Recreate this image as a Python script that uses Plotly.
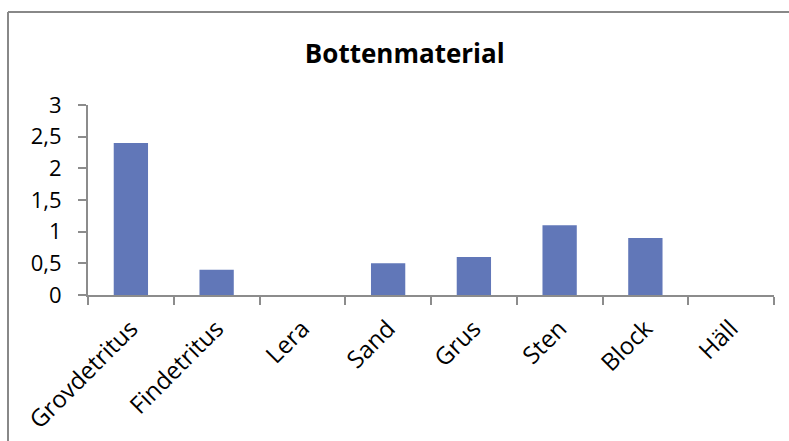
import plotly.graph_objects as go

categories = ["Grovdetritus", "Findetritus", "Lera", "Sand", "Grus", "Sten", "Block", "Häll"]
values = [2.4, 0.4, 0, 0.5, 0.6, 1.1, 0.9, 0]
y_ticks = [0, 0.5, 1, 1.5, 2, 2.5, 3]

W, H = 789, 441
L, R, T, B = 88, 15, 105, 146
pw, ph = W - L - R, H - T - B

def px_x(p):
    return (p - L) / pw

def px_y(p):
    return (H - B - p) / ph

font = "Open Sans, Liberation Sans, sans-serif"
axis_col = "#8c8c8c"

fig = go.Figure(go.Bar(
    x=categories, y=values,
    marker=dict(color="#6177b8", line=dict(width=0)),
))

fig.update_layout(
    width=W, height=H,
    margin=dict(l=L, r=R, t=T, b=B),
    paper_bgcolor="white", plot_bgcolor="white",
    separators=", ",
    bargap=0.6,
    showlegend=False,
    font=dict(family=font, color="black"),
    title=dict(text="<b>Bottenmaterial</b>", x=0.513, xanchor="center",
               y=1 - 54 / H, yanchor="middle",
               font=dict(size=26, family=font, color="black")),
    xaxis=dict(
        type="category", tickangle=-45, tickson="boundaries",
        ticks="outside", ticklen=8, tickwidth=2, tickcolor=axis_col,
        showline=True, linecolor=axis_col, linewidth=2,
        showgrid=False, tickfont=dict(size=24, family=font),
        range=[-0.5, 7.5], automargin=False, ticklabelstandoff=8,
    ),
    yaxis=dict(
        range=[0, 3], tickvals=y_ticks, tickformat=".1~f",
        ticks="outside", ticklen=8, tickwidth=2, tickcolor=axis_col,
        showline=True, linecolor=axis_col, linewidth=2,
        showgrid=False, zeroline=False, tickfont=dict(size=22, family=font),
        ticklabelstandoff=12, automargin=False,
    ),
)

# chart frame
frame = dict(type="line", xref="paper", yref="paper",
             line=dict(color="#888888", width=2), layer="above")
fig.add_shape(**frame, x0=px_x(8), x1=px_x(8), y0=px_y(12), y1=px_y(H + 5))
fig.add_shape(**frame, x0=px_x(8), x1=px_x(W + 5), y0=px_y(12), y1=px_y(12))

fig.write_html("out.html")
